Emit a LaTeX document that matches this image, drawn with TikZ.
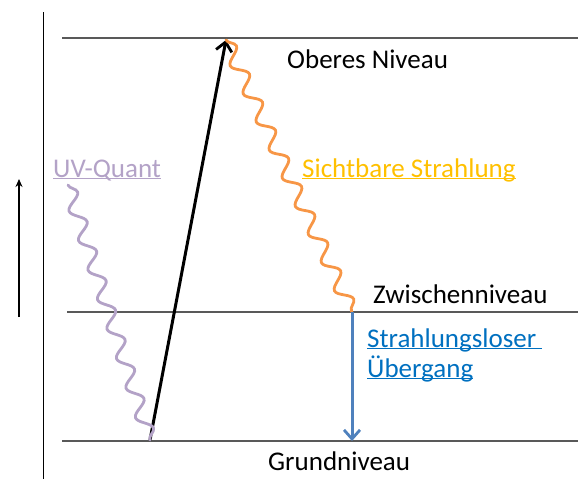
\documentclass[tikz,border=0pt]{standalone}
\usepackage{fontspec}
\setmainfont{Carlito}
\usetikzlibrary{
    arrows.meta,
    decorations.pathmorphing,
    positioning
}
\definecolor{Worange}{RGB}{247, 150, 70}
\definecolor{Vyellow}{RGB}{255, 192, 0}
\definecolor{Uviolet}{RGB}{179, 162, 199}
\definecolor{Bmid}{RGB}{79, 129, 189}
\definecolor{Btext}{RGB}{0, 112, 192}
\definecolor{Lgray}{RGB}{89, 89, 89}
\newcommand{\ulbl}[1]{\underline{\smash{#1}}\vphantom{#1}}
\tikzset{
    lvl/.style={draw=Lgray, line width=1.4pt},
    lbl/.style={
        anchor=base west, inner sep=0pt, align=left,
        font=\fontsize{27}{30}\selectfont
    },
    wavy/.style={
        decorate, decoration={snake, segment length=31pt, amplitude=7pt},
        line width=2.8pt, line cap=round
    },
    barr/.style={-{Straight Barb[length=9pt, width=16pt, line width=2.8pt]}, line width=3pt},
}

\begin{document}
\begin{tikzpicture}[x=1pt, y=-1pt]
    \useasboundingbox (0,0) rectangle (582,479);

    % ── Niveaus ─────────────────────────────────────────
    \coordinate (ob-l) at (62,38);
    \coordinate (ob-r) at (578,38);
    \coordinate (zw-l) at (67,312);
    \coordinate (zw-r) at (578,312);
    \coordinate (gr-l) at (62,441);
    \coordinate (gr-r) at (578,441);

    \draw [lvl] (ob-l) -- (ob-r);
    \draw [lvl] (zw-l) -- (zw-r);
    \draw [lvl] (gr-l) -- (gr-r);

    % ── Energieachse ────────────────────────────────────
    \coordinate (ax-t) at (43,12);
    \coordinate (ax-b) at (43,479);
    \draw [line width=0.8pt] (ax-t) -- (ax-b);

    \coordinate (en-b) at (19,317);
    \coordinate (en-t) at (19,179);
    \draw [-{Stealth[length=8pt, width=7pt]}, line width=2.6pt] (en-b) -- (en-t);

    % ── Übergänge ───────────────────────────────────────
    \coordinate (p-gr) at (150,440);
    \coordinate (p-ob) at (226,40);
    \coordinate (p-zw) at (352,312);
    \coordinate (p-gz) at (352,441);
    \coordinate (p-uv) at (68,185);

    \draw [barr] (p-gr) -- (p-ob);
    \draw [wavy, Worange] (p-ob) -- (p-zw);
    \draw [wavy, Uviolet] (p-uv) -- (p-gr);
    \draw [barr, Bmid] (p-zw) -- (p-gz);

    % ── Beschriftungen ──────────────────────────────────
    \node [lbl] (t-ob) at (287,68) {Oberes Niveau};
    \node [lbl] (t-zw) at (373,303) {Zwischenniveau};
    \node [lbl] (t-gr) at (268,470) {Grundniveau};
    \node [lbl, text=Uviolet] (t-uv) at (53,177) {\ulbl{UV-Quant}};
    \node [lbl, text=Vyellow] (t-vis) at (302,177) {\ulbl{Sichtbare Strahlung}};
    \node [lbl, text=Btext] (t-sl) at (367,377) {\ulbl{Strahlungsloser }\\\ulbl{Übergang}};

\end{tikzpicture}
\end{document}
